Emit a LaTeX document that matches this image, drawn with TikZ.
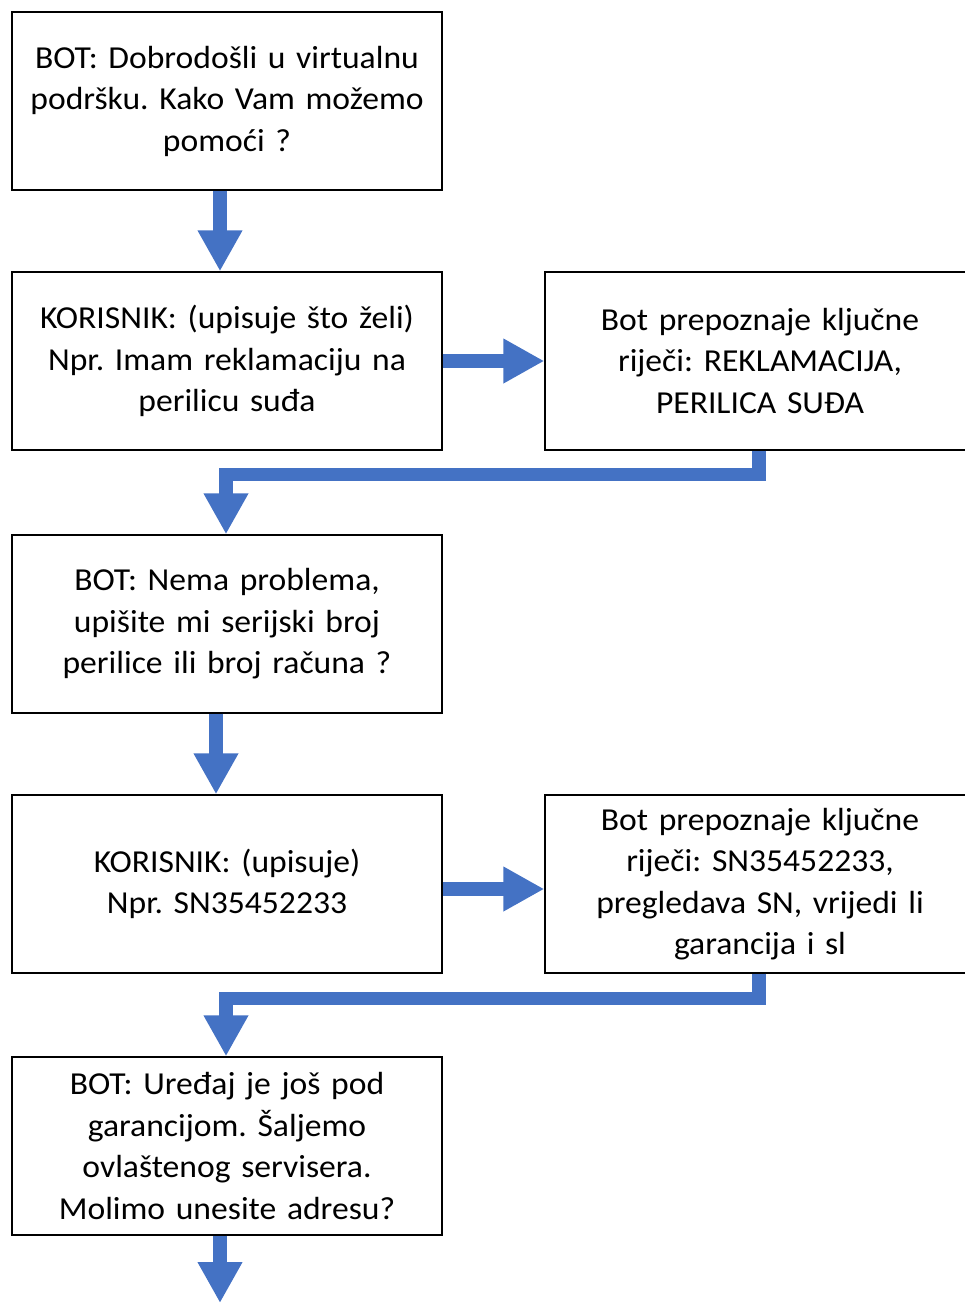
\documentclass[tikz,border=0pt]{standalone}
\usepackage{fontspec}
\setmainfont{Carlito}[FakeStretch=1.05]
\usetikzlibrary{arrows.meta}
\definecolor{arrblue}{HTML}{4472C4}
\tikzset{
  box/.style={draw=black, line width=1.4pt, minimum width=430pt, minimum height=178pt,
    text width=425pt, align=center, inner sep=0pt, font=\fontsize{32}{41.5}\selectfont\frenchspacing},
  arr/.style={draw=arrblue, line width=13.5pt, line join=miter,
    -{Triangle[width=42pt,length=41pt]}},
}
\begin{document}
\begin{tikzpicture}[x=1pt,y=-1pt]
\useasboundingbox (0,0) rectangle (965,1303);
\begin{scope}
\clip (0,0) rectangle (965,1303);
\node[box] (b1) at (227,101) {BOT: Dobrodošli u virtualnu\\podršku. Kako Vam možemo\\pomoći ?};
\node[box] (b2) at (227,361) {KORISNIK: (upisuje što želi)\\Npr. Imam reklamaciju na\\perilicu suđa};
\node[box] (r1) at (760,361) {Bot prepoznaje ključne\\riječi: REKLAMACIJA,\\PERILICA SUĐA};
\node[box] (b4) at (227,624) {BOT: Nema problema,\\upišite mi serijski broj\\perilice ili broj računa ?};
\node[box] (b5) at (227,884) {KORISNIK: (upisuje)\\Npr. SN35452233};
\node[box] (r2) at (760,884) {Bot prepoznaje ključne\\riječi: SN35452233,\\pregledava SN, vrijedi li\\garancija i sl};
\node[box] (b7) at (227,1146) {BOT: Uređaj je još pod\\garancijom. Šaljemo\\ovlaštenog servisera.\\Molimo unesite adresu?};
\coordinate (end) at (220,1303);
\draw[arr] ([xshift=-7pt]b1.south) -- ([xshift=-7pt]b2.north);
\draw[arr] (b2.east) -- (r1.west);
\draw[arr] ([xshift=-1pt]r1.south) -- ++(0,24) -| ([xshift=-1pt]b4.north);
\draw[arr] ([xshift=-11pt]b4.south) -- ([xshift=-11pt]b5.north);
\draw[arr] ([yshift=-5pt]b5.east) -- ([yshift=-5pt]r2.west);
\draw[arr] ([xshift=-1pt]r2.south) -- ++(0,25) -| ([xshift=-1pt]b7.north);
\draw[arr] ([xshift=-7pt]b7.south) -- (end);
\end{scope}
\end{tikzpicture}
\end{document}
